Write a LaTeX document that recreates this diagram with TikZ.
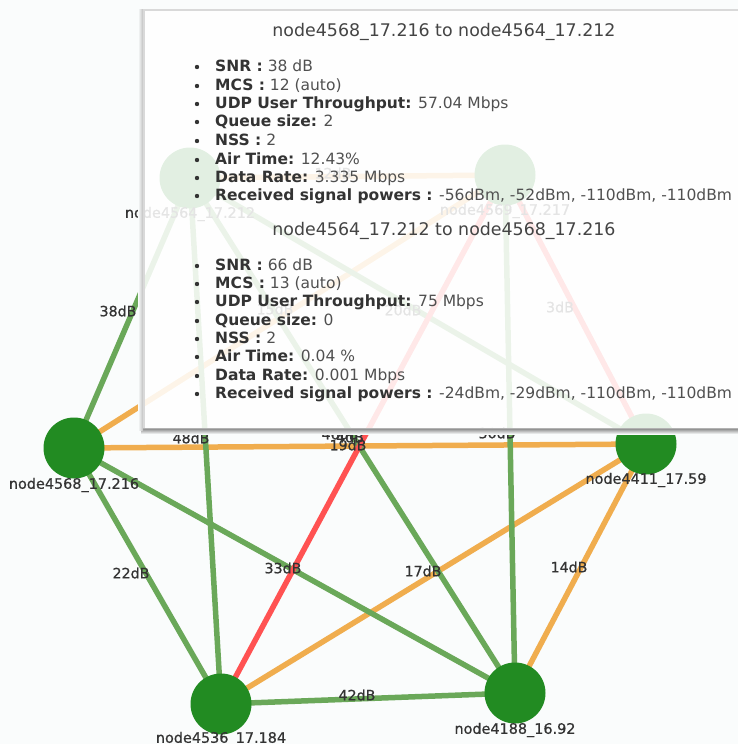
\documentclass[tikz,border=0pt]{standalone}
\usepackage{fontspec}
\setmainfont{DejaVu Sans}
\newfontfamily\labelfont[FakeBold=0.7]{DejaVu Sans}
\usetikzlibrary{calc}

\definecolor{bg}{RGB}{250,252,252}
\definecolor{nodegreen}{RGB}{34,139,34}
\definecolor{lgreen}{RGB}{106,168,89}
\definecolor{lorange}{RGB}{240,173,78}
\definecolor{lred}{RGB}{255,82,82}
\definecolor{labelgray}{RGB}{51,51,51}
\definecolor{valgray}{RGB}{80,80,80}
\definecolor{titlegray}{RGB}{68,68,68}

\pgfdeclarelayer{backdrop}
\pgfdeclarelayer{links}
\pgfdeclarelayer{overlay}
\pgfsetlayers{backdrop,links,main,overlay}

\tikzset{
  netnode/.style={circle, fill=nodegreen, inner sep=0pt, minimum size=61pt},
  nlabel/.style={font=\labelfont\fontsize{14.4}{16}\selectfont, text=labelgray, inner sep=0pt},
  elabel/.style={font=\labelfont\fontsize{14.2}{16}\selectfont, text=labelgray, inner sep=0pt},
  link/.style={line width=5.5pt},
  glink/.style={link, draw=lgreen},
  olink/.style={link, draw=lorange},
  rlink/.style={link, draw=lred},
  ptitle/.style={font=\fontsize{17.4}{20}\selectfont, text=titlegray, inner sep=0pt},
  pline/.style={font=\fontsize{15.5}{18}\selectfont, text=valgray, anchor=west,
                inner sep=0pt, text height=11pt, text depth=3pt},
}

% one bullet line of the info box: name, y, bold key, value
\newcommand\infoline[4]{%
  \fill[labelgray] (197,#2) circle (2.2pt);
  \node[pline] (#1) at (215,#2) {\textcolor{labelgray}{\textbf{#3}}#4};
}

\begin{document}
\begin{tikzpicture}[x=1pt,y=-1pt]
\useasboundingbox (0,0) rectangle (738,744);
\begin{pgfonlayer}{backdrop}
  \fill[bg] (0,0) rectangle (738,744);
\end{pgfonlayer}

% stations
\node[netnode] (A) at (190,178) {};
\node[netnode] (B) at (505,175) {};
\node[netnode] (C) at (74,448) {};
\node[netnode] (D) at (646,444) {};
\node[netnode] (E) at (221,704) {};
\node[netnode] (F) at (515,693) {};

\node[nlabel] (nA) at (190,214) {node4564\_17.212};
\node[nlabel] (nB) at (505,211) {node4569\_17.217};
\node[nlabel] (nC) at (74,485) {node4568\_17.216};
\node[nlabel] (nD) at (646,480) {node4411\_17.59};
\node[nlabel] (nE) at (221,739) {node4536\_17.184};
\node[nlabel] (nF) at (515,730) {node4188\_16.92};

% links with their SNR labels
\begin{pgfonlayer}{links}
  \draw[olink] (A.center) -- (B.center);
  \draw[olink] (C.center) -- (B.center);
  \draw[olink] (C.center) -- (D.center);
  \draw[olink] (D.center) -- (E.center);
  \draw[olink] (D.center) -- (F.center);
  \draw[glink] (C.center) -- (A.center);
  \draw[glink] (A.center) -- (D.center);
  \draw[glink] (A.center) -- (E.center);
  \draw[glink] (A.center) -- (F.center);
  \draw[glink] (B.center) -- (F.center);
  \draw[glink] (C.center) -- (E.center);
  \draw[glink] (C.center) -- (F.center);
  \draw[glink] (E.center) -- (F.center);
  \draw[rlink] (B.center) -- (D.center);
  \draw[rlink] (B.center) -- (E.center);

  \node[elabel] (sAB) at (333,173) {12dB};
  \node[elabel] (sCA) at (118,311) {38dB};
  \node[elabel] (sCB) at (275,309) {15dB};
  \node[elabel] (sAD) at (403,310) {20dB};
  \node[elabel] (sBD) at (560,307) {3dB};
  \node[elabel] (sAE) at (191,438) {48dB};
  \node[elabel] (sAF) at (340,434) {46dB};
  \node[elabel] (sBE) at (350,437) {4dB};
  \node[elabel] (sCD) at (348,445) {19dB};
  \node[elabel] (sBF) at (497,433) {30dB};
  \node[elabel] (sCE) at (131,573) {22dB};
  \node[elabel] (sCF) at (283,568) {33dB};
  \node[elabel] (sDE) at (423,571) {17dB};
  \node[elabel] (sDF) at (569,567) {14dB};
  \node[elabel] (sEF) at (357,695) {42dB};
\end{pgfonlayer}

% link details box
\begin{pgfonlayer}{overlay}
  \shade[top color=black!50, bottom color=bg] (141,428) rectangle (738,434);
  \shade[left color=bg, right color=black!25] (138,9) rectangle (143,430);
  \fill[white, opacity=0.87] (143,9) rectangle (738,428);
  \draw[black!15, line width=1.5pt] (738,9.75) -- (143.75,9.75) -- (143.75,428);
  \draw[black!30, line width=1pt] (143,428) -- (738,428);

  \node[ptitle] (t1) at (444,32) {node4568\_17.216 to node4564\_17.212};
  \infoline{a1}{67}{SNR :}{ 38 dB}
  \infoline{a2}{86}{MCS :}{ 12 (auto)}
  \infoline{a3}{104}{UDP User Throughput:}{ 57.04 Mbps}
  \infoline{a4}{122}{Queue size:}{ 2}
  \infoline{a5}{141}{NSS :}{ 2}
  \infoline{a6}{160}{Air Time:}{ 12.43\%}
  \infoline{a7}{178}{Data Rate:}{ 3.335 Mbps}
  \infoline{a8}{196}{Received signal powers :}{ -56dBm, -52dBm, -110dBm, -110dBm}

  \node[ptitle] (t2) at (444,231) {node4564\_17.212 to node4568\_17.216};
  \infoline{b1}{266}{SNR :}{ 66 dB}
  \infoline{b2}{284}{MCS :}{ 13 (auto)}
  \infoline{b3}{302}{UDP User Throughput:}{ 75 Mbps}
  \infoline{b4}{321}{Queue size:}{ 0}
  \infoline{b5}{339}{NSS :}{ 2}
  \infoline{b6}{357}{Air Time:}{ 0.04 \%}
  \infoline{b7}{376}{Data Rate:}{ 0.001 Mbps}
  \infoline{b8}{394}{Received signal powers :}{ -24dBm, -29dBm, -110dBm, -110dBm}
\end{pgfonlayer}
\end{tikzpicture}
\end{document}
